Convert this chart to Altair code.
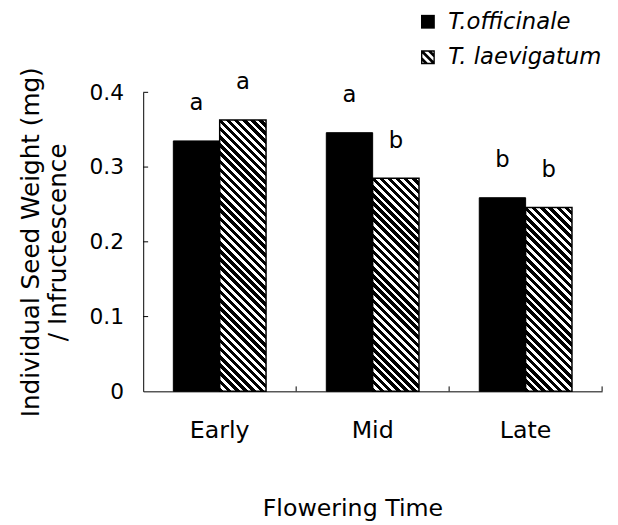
import math
import altair as alt
import pandas as pd

# ---- data ----
periods = ["Early", "Mid", "Late"]
species = ["T.officinale", "T. laevigatum"]
officinale = [0.335, 0.346, 0.259]
laevigatum = [0.363, 0.285, 0.246]
letters_officinale = ["a", "a", "b"]
letters_laevigatum = ["a", "b", "b"]
y_tick_values = [0.0, 0.1, 0.2, 0.3, 0.4]

# ---- layout / style ----
FONT = "DejaVu Sans"
W, H = 465, 303
Y_MAX = 0.4
OUTER = 0.65
BAR_W = W / len(periods) / (2 + 2 * OUTER)
STRIPE_PERIOD = 5.8
STRIPE_BLACK = 0.55

rows = []
for i, p in enumerate(periods):
    rows.append(dict(period=p, species=species[0], value=officinale[i], letter=letters_officinale[i]))
    rows.append(dict(period=p, species=species[1], value=laevigatum[i], letter=letters_laevigatum[i]))
df = pd.DataFrame(rows)
ticks_df = pd.DataFrame({"tick": [v for v in y_tick_values if v > 0]})
period_df = pd.DataFrame({"period": periods})

x_axis = alt.Axis(title="Flowering Time", labelFontSize=24, titleFontSize=24,
                  titleFontWeight="normal", labelAngle=0, ticks=False, tickSize=0,
                  labelPadding=28, titlePadding=55, titleX=212, titleAlign="center",
                  domainColor="black", labelColor="black", titleColor="black")
y_axis = alt.Axis(title=["Individual Seed Weight (mg)", "/ Infructescence"],
                  values=y_tick_values, grid=False, ticks=False, tickSize=0,
                  labelExpr="datum.value == 0 ? '0' : format(datum.value, '.1f')",
                  labelFontSize=22, titleFontSize=25, titleFontWeight="normal",
                  labelPadding=20, titlePadding=19, titleLineHeight=27,
                  domainColor="black", labelColor="black", titleColor="black")

x_scale = alt.Scale(domain=periods, paddingInner=0, paddingOuter=0)
xo_scale = alt.Scale(domain=species, paddingInner=0, paddingOuter=OUTER)
y_scale = alt.Scale(domain=[0, Y_MAX], nice=False, zero=True)


def X(**kw):
    return alt.X("period:N", scale=x_scale, axis=x_axis, **kw)


def XO():
    return alt.XOffset("species:N", scale=xo_scale)


def Y(field="value"):
    return alt.Y(f"{field}:Q", scale=y_scale, axis=y_axis)


def hatch(value):
    h = value / Y_MAX * H
    w = BAR_W
    r = h / w
    a = (1 + r) / (1 + r * r)
    b = -a * r
    length = (w + h) / math.sqrt(2)
    n = max(1, round(length / STRIPE_PERIOD))
    stops = []
    for k in range(n):
        s0 = k / n
        s1 = (k + STRIPE_BLACK) / n
        s2 = (k + 1) / n
        stops += [
            {"offset": s0, "color": "black"},
            {"offset": s1, "color": "black"},
            {"offset": s1, "color": "white"},
            {"offset": s2, "color": "white"},
        ]
    return {"gradient": "linear", "x1": 0, "y1": 1, "x2": a, "y2": 1 + b, "stops": stops}


def clip_band(c0, d):
    """Polygon of the band |y - x - c0| <= d clipped to the unit square [-1,1]^2."""
    poly = [(-1, -1), (1, -1), (1, 1), (-1, 1)]

    def clip(poly, f):
        out = []
        for i in range(len(poly)):
            p, q = poly[i], poly[(i + 1) % len(poly)]
            fp, fq = f(p), f(q)
            if fp >= 0:
                out.append(p)
            if (fp >= 0) != (fq >= 0):
                t = fp / (fp - fq)
                out.append((p[0] + t * (q[0] - p[0]), p[1] + t * (q[1] - p[1])))
        return out

    poly = clip(poly, lambda p: d - (p[1] - p[0] - c0))
    poly = clip(poly, lambda p: d + (p[1] - p[0] - c0))
    if len(poly) < 3:
        return ""
    return "M" + "L".join(f"{x:.3f},{y:.3f}" for x, y in poly) + "Z"


FRAME = 0.2
hatch_symbol = (
    f"M-1,-1H1V{-1 + FRAME}H-1Z M-1,{1 - FRAME}H1V1H-1Z "
    f"M-1,-1H{-1 + FRAME}V1H-1Z M{1 - FRAME},-1H1V1H{1 - FRAME}Z "
    + " ".join(clip_band(c, 0.27) for c in (-1.1, 0.0, 1.1))
)

legend = alt.Legend(title=None, orient="none", legendX=277, legendY=-83,
                    labelFont=FONT, labelFontSize=23, labelFontStyle="italic",
                    labelColor="black", symbolSize=196, symbolFillColor="black",
                    symbolStrokeColor="black", symbolStrokeWidth=0,
                    symbolOpacity=1, rowPadding=12, labelOffset=9, padding=0)
base = alt.Chart(df)
legend_points = base.mark_point(filled=True, color="black", opacity=0).encode(
    x=X(), xOffset=XO(), y=Y(),
    shape=alt.Shape("species:N", scale=alt.Scale(domain=species, range=["square", hatch_symbol]), legend=legend),
)

black_bars = base.transform_filter(alt.datum.species == species[0]).mark_bar(
    fill="black", stroke="black", strokeWidth=1
).encode(x=X(), xOffset=XO(), y=Y())

hatched_layers = []
for i, p in enumerate(periods):
    hatched_layers.append(
        base.transform_filter((alt.datum.species == species[1]) & (alt.datum.period == p))
        .mark_bar(fill=hatch(laevigatum[i]), stroke="black", strokeWidth=1.5)
        .encode(x=X(), xOffset=XO(), y=Y())
    )

letters = base.mark_text(baseline="alphabetic", dy=-31, fontSize=23, font=FONT, color="black").encode(
    x=X(), xOffset=XO(), y=Y(), text="letter:N"
)

y_tick_rules = alt.Chart(ticks_df).mark_rule(color="black", strokeWidth=1).encode(
    y=Y("tick"), x=alt.value(0), x2=alt.value(5)
)
x_tick_rules = alt.Chart(period_df).mark_rule(color="black", strokeWidth=1).encode(
    x=X(bandPosition=1), y=alt.value(H), y2=alt.value(H - 5)
)

chart = alt.layer(
    black_bars, *hatched_layers, letters, y_tick_rules, x_tick_rules, legend_points
).properties(
    width=W, height=H,
    autosize=alt.AutoSizeParams(type="none"),
    padding={"left": 137, "top": 82, "right": 8, "bottom": 132},
).configure(font=FONT, background="white").configure_view(stroke=None)

chart.save("out.html", embed_options={"renderer": "svg", "actions": False})
